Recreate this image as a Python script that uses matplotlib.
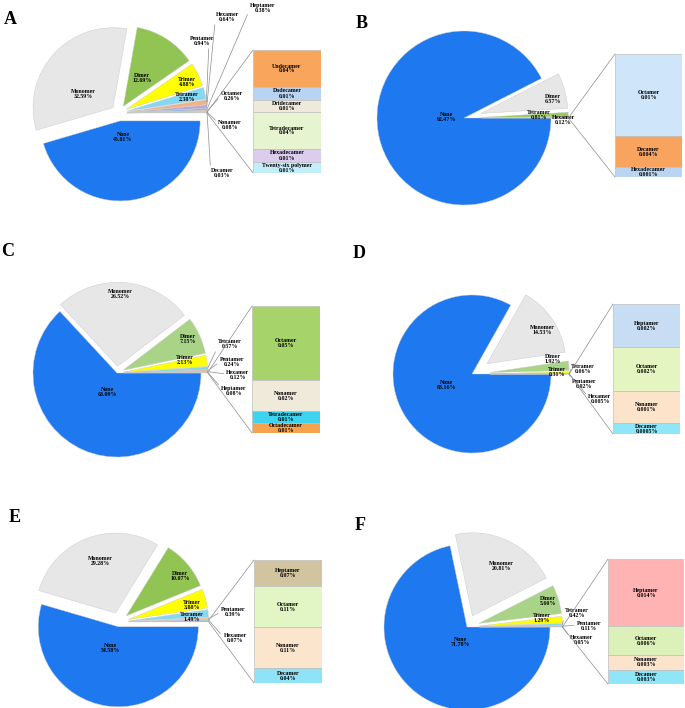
import numpy as np
import matplotlib
matplotlib.use("Agg")
import matplotlib.pyplot as plt
from matplotlib.patches import ConnectionPatch

plt.rcParams['font.family'] = ['Liberation Serif', 'DejaVu Serif']
plt.rcParams['font.weight'] = 'bold'

W, H = 685, 708

# ---------------- data (percent of sequences) ----------------
a_names = ['None', 'Monomer', 'Dimer', 'Trimer', 'Tetramer', 'Pentamer',
           'Hexamer', 'Heptamer', 'Octamer', 'Nonamer', 'Decamer']
a_pct = ['45.81', '32.59', '12.69', '4.88', '2.38', '0.94', '0.64', '0.38',
         '0.26', '0.08', '0.03']
a_bar_names = ['Undecamer', 'Dodecamer', 'Dridecamer', 'Tetradecamer',
               'Hexadecamer', 'Twenty-six polymer']
a_bar_pct = ['0.04', '0.01', '0.01', '0.04', '0.01', '0.01']
a_bar_size = [0.037, 0.013, 0.012, 0.037, 0.013, 0.011]

b_names = ['None', 'Dimer', 'Tetramer', 'Hexamer']
b_pct = ['92.47', '6.57', '0.81', '0.12']
b_bar_names = ['Octamer', 'Decamer', 'Hexadecamer']
b_bar_pct = ['0.01', '0.004', '0.001']
b_bar_size = [0.01, 0.0038, 0.0012]

c_names = ['None', 'Monomer', 'Dimer', 'Trimer', 'Tetramer', 'Pentamer',
           'Hexamer', 'Heptamer']
c_pct = ['63.09', '26.52', '7.15', '2.13', '0.57', '0.24', '0.12', '0.08']
c_bar_names = ['Octamer', 'Nonamer', 'Tetradecamer', 'Octadecamer']
c_bar_pct = ['0.05', '0.02', '0.01', '0.01']
c_bar_size = [0.05, 0.021, 0.0075, 0.007]

d_names = ['None', 'Monomer', 'Dimer', 'Trimer', 'Tetramer', 'Pentamer',
           'Hexamer']
d_pct = ['83.16', '14.53', '1.92', '0.31', '0.06', '0.02', '0.005']
d_bar_names = ['Heptamer', 'Octamer', 'Nonamer', 'Decamer']
d_bar_pct = ['0.002', '0.002', '0.001', '0.0005']
d_bar_size = [0.002, 0.002, 0.0015, 0.0005]

e_names = ['None', 'Monomer', 'Dimer', 'Trimer', 'Tetramer', 'Pentamer',
           'Hexamer']
e_pct = ['54.58', '29.28', '10.07', '3.88', '1.49', '0.39', '0.07']
e_bar_names = ['Heptamer', 'Octamer', 'Nonamer', 'Decamer']
e_bar_pct = ['0.07', '0.11', '0.11', '0.04']
e_bar_size = [0.07, 0.11, 0.11, 0.04]

f_names = ['None', 'Monomer', 'Dimer', 'Trimer', 'Tetramer', 'Pentamer',
           'Hexamer']
f_pct = ['71.78', '20.81', '5.60', '1.29', '0.42', '0.11', '0.05']
f_bar_names = ['Heptamer', 'Octamer', 'Nonamer', 'Decamer']
f_bar_pct = ['0.014', '0.006', '0.003', '0.003']
f_bar_size = [0.014, 0.006, 0.003, 0.003]

# ---------------- colours ----------------
BLUE = '#1E78F0'
GRAY = '#E7E7E7'
GREEN = '#92C454'
GREEN_L = '#A9D488'
YELLOW = '#FFFF00'
CYAN = '#85D8F2'
LINE = '#8C8C8C'

panels = [
    dict(letter='A', letter_xy=(10, 20), names=a_names, pct=a_pct,
         bar_names=a_bar_names, bar_pct=a_bar_pct, bar_size=a_bar_size,
         center=(119, 113), r=80, expl_none=0.1, expl=0.1,
         colors=[BLUE, GRAY, GREEN, YELLOW, CYAN, '#F4B183', '#B7A8D8',
                 '#8DB4E2', '#D9C49A', '#F9CB9C', '#9DC3E6', '#C9C9C9'],
         bar_box=(253, 50, 321, 173),
         bar_colors=['#F9A55B', '#B9D3F2', '#EFE9DB', '#E6F5CF', '#DCCDEE',
                     '#C2EEFA'],
         label_xy=[(123, 137), (83, 94), (142, 78), (187, 82), (187, 97),
                   (202, 41), (227, 17), (263, 8), (232, 96), (230, 125),
                   (222, 173)],
         relpos=[None, None, None, None, None, (0.78, 0), (0, 0.3),
                 (0, 0.5), (0, 0.5), (0, 0.7), (0, 0.7)]),
    dict(letter='B', letter_xy=(362, 23), names=b_names, pct=b_pct,
         bar_names=b_bar_names, bar_pct=b_bar_pct, bar_size=b_bar_size,
         center=(464, 118), r=87, expl_none=0.0, expl=0.2,
         colors=[BLUE, GRAY, '#9BCB5F', YELLOW, CYAN],
         bar_box=(615, 54, 682, 177),
         bar_colors=['#CFE6FA', '#F8A35E', '#B9D5F2'],
         label_xy=[(446, 117), (553, 99), (539, 115), (563, 120)],
         relpos=[None, None, None, None]),
    dict(letter='C', letter_xy=(8, 252), names=c_names, pct=c_pct,
         bar_names=c_bar_names, bar_pct=c_bar_pct, bar_size=c_bar_size,
         center=(117, 373), r=84, expl_none=0.0, expl=0.08,
         colors=[BLUE, GRAY, GREEN_L, YELLOW, CYAN, '#F4B183', '#B7A8D8',
                 '#8DB4E2', '#D9C49A'],
         bar_box=(252, 306, 320, 433),
         bar_colors=['#A6D46A', '#F0EADB', '#3ED3EE', '#F7A34E'],
         label_xy=[(107, 392), (120, 294), (188, 339), (185, 360),
                   (230, 344), (232, 362), (238, 375), (234, 391)],
         relpos=[None, None, None, None, (0, 0.3), (0, 0.5), (0, 0.6),
                 (0, 0.8)]),
    dict(letter='D', letter_xy=(359, 253), names=d_names, pct=d_pct,
         bar_names=d_bar_names, bar_pct=d_bar_pct, bar_size=d_bar_size,
         center=(472, 374), r=79, expl_none=0.0, expl=0.23,
         colors=[BLUE, GRAY, GREEN_L, YELLOW, CYAN, '#F4B183', '#B7A8D8',
                 '#8DB4E2'],
         bar_box=(613, 304, 680, 434),
         bar_colors=['#C6DDF4', '#E4F5C2', '#FCE3CA', '#8EE6F8'],
         label_xy=[(446, 385), (542, 330), (553, 359), (557, 372),
                   (583, 369), (584, 384), (600, 399)],
         relpos=[None, None, None, None, (0, 0.5), (0, 0.6), (0, 0.7)]),
    dict(letter='E', letter_xy=(15, 517), names=e_names, pct=e_pct,
         bar_names=e_bar_names, bar_pct=e_bar_pct, bar_size=e_bar_size,
         center=(119, 622), r=80, expl_none=0.06, expl=0.12,
         colors=[BLUE, GRAY, GREEN, YELLOW, CYAN, '#E8C9A8', '#B7A8D8',
                 '#8DB4E2'],
         bar_box=(254, 560, 322, 683),
         bar_colors=['#D2C49E', '#E2F5C4', '#FCE5CD', '#8FE3F7'],
         label_xy=[(110, 648), (100, 561), (180, 576), (192, 605),
                   (192, 617), (233, 612), (235, 638)],
         relpos=[None, None, None, None, None, (0, 0.5), (0, 0.6)]),
    dict(letter='F', letter_xy=(360, 525), names=f_names, pct=f_pct,
         bar_names=f_bar_names, bar_pct=f_bar_pct, bar_size=f_bar_size,
         center=(467, 627), r=83, expl_none=0.0, expl=0.15,
         colors=[BLUE, GRAY, GREEN_L, YELLOW, CYAN, '#F4B183', '#B7A8D8',
                 '#8DB4E2'],
         bar_box=(608, 559, 684, 684),
         bar_colors=['#FFB3B3', '#DCF0BA', '#FCE3CB', '#90E6F7'],
         label_xy=[(460, 642), (501, 566), (548, 601), (542, 618),
                   (577, 613), (589, 626), (582, 640)],
         relpos=[None, None, None, None, (0, 0.5), (0, 0.6), (0, 0.7)]),
]

fig = plt.figure(figsize=(W / 100, H / 100), dpi=100)
FS = 4.2

for p in panels:
    fig.text(p['letter_xy'][0] / W, 1 - p['letter_xy'][1] / H, p['letter'],
             fontsize=13, fontweight='bold', ha='center', va='center')

    cx, cy = p['center']
    r = p['r']
    ax = fig.add_axes([(cx - 1.3 * r) / W, (H - cy - 1.3 * r) / H,
                       2.6 * r / W, 2.6 * r / H])
    vals = [float(v) for v in p['pct']] + [float(v) for v in p['bar_pct']][:0]
    vals.append(sum(float(v) for v in p['bar_pct']))
    explode = [p['expl_none']] + [p['expl']] * (len(vals) - 1)
    wedges, _ = ax.pie(vals, explode=explode, colors=p['colors'],
                       startangle=0, counterclock=False, radius=1,
                       wedgeprops=dict(linewidth=0.3, edgecolor='#C8C8C8'))
    ax.set_xlim(-1.3, 1.3)
    ax.set_ylim(-1.3, 1.3)
    ax.set_aspect('auto')
    ax.axis('off')

    # slice labels
    for i, name in enumerate(p['names']):
        w = wedges[i]
        ang = np.deg2rad((w.theta1 + w.theta2) / 2)
        px = w.center[0] + w.r * np.cos(ang)
        py = w.center[1] + w.r * np.sin(ang)
        lx, ly = p['label_xy'][i]
        kw = {}
        if p['relpos'][i] is not None:
            kw['arrowprops'] = dict(arrowstyle='-', color=LINE, lw=0.5,
                                    relpos=p['relpos'][i],
                                    shrinkA=0, shrinkB=0)
        ax.annotate(f"{name}\n{p['pct'][i]}%", xy=(px, py), xycoords='data',
                    xytext=(lx, H - ly), textcoords='figure pixels',
                    ha='center', va='center', fontsize=FS,
                    linespacing=1.0, annotation_clip=False, **kw)

    # bar of the smallest groups
    x0, y0, x1, y1 = p['bar_box']
    bax = fig.add_axes([x0 / W, (H - y1) / H, (x1 - x0) / W, (y1 - y0) / H])
    sizes = p['bar_size']
    total = sum(sizes)
    bottom = total
    for name, pc, s, col in zip(p['bar_names'], p['bar_pct'], sizes,
                                p['bar_colors']):
        bottom -= s
        bax.bar(0, s, bottom=bottom, width=1, color=col,
                edgecolor='#BFBFBF', linewidth=0.5)
        bax.text(0, bottom + s / 2, f"{name}\n{pc}%", ha='center',
                 va='center', fontsize=FS, linespacing=1.0)
    bax.set_xlim(-0.5, 0.5)
    bax.set_ylim(0, total)
    bax.axis('off')

    # connector lines from the "other" slice to the bar
    w = wedges[-1]
    hi = np.deg2rad(w.theta2)
    lo = np.deg2rad(w.theta1)
    for ang, yb in ((hi, total), (lo, 0)):
        pt = (w.center[0] + w.r * np.cos(ang), w.center[1] + w.r * np.sin(ang))
        con = ConnectionPatch(xyA=pt, coordsA=ax.transData,
                              xyB=(-0.5, yb), coordsB=bax.transData,
                              color=LINE, lw=0.5)
        fig.add_artist(con)

fig.savefig('out.png', dpi=100)
